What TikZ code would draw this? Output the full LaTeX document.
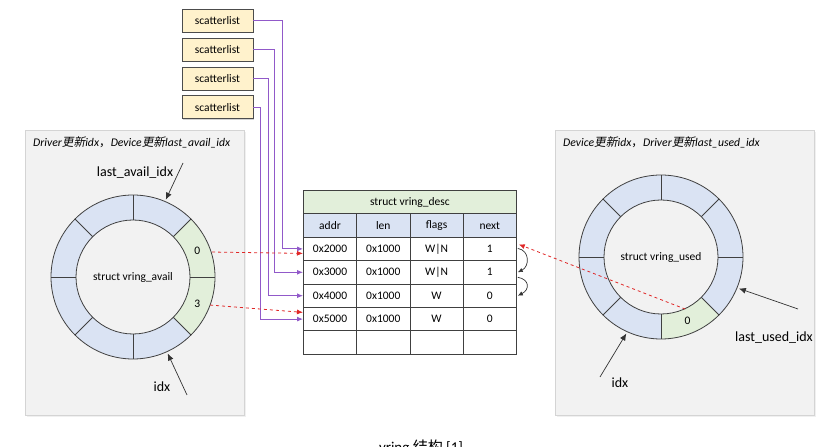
\documentclass[tikz,border=0pt]{standalone}
\usepackage{fontspec}
\setmainfont{Carlito}
\newfontfamily\cjk{Noto Sans CJK SC}
\newfontfamily\cjkit{Noto Sans CJK SC}[FakeSlant=0.2]
\usetikzlibrary{arrows.meta,positioning,calc,shadows}

\definecolor{segblue}{HTML}{DAE3F3}
\definecolor{seggreen}{HTML}{E2EFDA}
\definecolor{slyellow}{HTML}{FFF2CC}
\definecolor{panelgray}{HTML}{F2F2F2}
\definecolor{panelline}{HTML}{D4D4D4}
\definecolor{sgpurple}{HTML}{9159C9}
\definecolor{ptrred}{HTML}{E02828}

\begin{document}
\begin{tikzpicture}[
  x=1pt, y=1pt, >=Latex, font=\fontsize{11.5}{13}\selectfont,
  slbox/.style={draw=black!70, fill=slyellow, minimum width=71pt, minimum height=23pt, inner sep=0pt,
    drop shadow={shadow xshift=1.2pt, shadow yshift=-1.2pt, opacity=0.35}},
  panel/.style={draw=panelline, fill=panelgray, inner sep=0pt, anchor=north west,
    drop shadow={shadow xshift=1.5pt, shadow yshift=-1.5pt, opacity=0.12}},
  title/.style={font=\fontsize{11.7}{13}\selectfont\itshape, anchor=west, inner sep=0pt},
  cell/.style={draw=black!75, line width=0.8pt, minimum width=53.25pt, minimum height=23.4pt, inner sep=0pt, anchor=north west},
  ringline/.style={draw=black!75, line width=0.8pt},
  sglink/.style={draw=sgpurple, line width=0.9pt, -{Latex[length=6pt,width=5pt]}},
  ptr/.style={draw=ptrred, dashed, line width=0.8pt, -{Latex[length=6pt,width=5pt]}},
  idxarrow/.style={draw=black!80, line width=0.7pt, -{Latex[length=7pt,width=6pt]}},
  nextarrow/.style={draw=black!80, line width=0.7pt, -{Latex[length=5pt,width=4.5pt]}},
  idxlabel/.style={font=\fontsize{14}{16}\selectfont}
]
\useasboundingbox (0,0) rectangle (822,447);

% ---------- PANELS ----------
\node[panel, minimum width=219pt, minimum height=285pt] (availpanel) at (25,317) {};
\node[panel, minimum width=259pt, minimum height=285pt] (usedpanel) at (555,317) {};
\node[title] (availtitle) at (33,305) {Driver{\cjkit 更新}idx{\cjk ，}Device{\cjkit 更新}last\_avail\_idx};
\node[title] (usedtitle) at (563,305) {Device{\cjkit 更新}idx{\cjk ，}Driver{\cjkit 更新}last\_used\_idx};

% ---------- AVAIL RING ----------
\coordinate (availc) at (133,170);
\foreach \a in {0,45,...,315}
  \fill[segblue] ($(availc)+(\a:82)$) arc[start angle=\a, end angle=\a+45, radius=82]
    -- ($(availc)+(\a+45:57)$) arc[start angle=\a+45, end angle=\a, radius=57] -- cycle;
\foreach \a in {-45,0}
  \fill[seggreen] ($(availc)+(\a:82)$) arc[start angle=\a, end angle=\a+45, radius=82]
    -- ($(availc)+(\a+45:57)$) arc[start angle=\a+45, end angle=\a, radius=57] -- cycle;
\draw[ringline] (availc) circle[radius=82] (availc) circle[radius=57];
\foreach \a in {0,45,...,315}
  \draw[ringline] ($(availc)+(\a:57)$) -- ($(availc)+(\a:82)$);
\node (availname) at (availc) {struct vring\_avail};
\node (avail0) at ($(availc)+(22.5:69.5)$) {0};
\node (avail3) at ($(availc)+(-22.5:69.5)$) {3};

\node[idxlabel] (lastavail) at (135,274) {last\_avail\_idx};
\coordinate (lastavailtail) at (183,284);
\coordinate (lastavailtip) at ($(availc)+(67:84)$);
\draw[idxarrow] (lastavailtail) -- (lastavailtip);
\node[idxlabel] (availidx) at (162,60) {idx};
\coordinate (availidxtail) at (187,52);
\coordinate (availidxtip) at ($(availc)+(-65.6:84)$);
\draw[idxarrow] (availidxtail) -- (availidxtip);

% ---------- USED RING ----------
\coordinate (usedc) at (661,190);
\foreach \a in {0,45,...,315}
  \fill[segblue] ($(usedc)+(\a:82)$) arc[start angle=\a, end angle=\a+45, radius=82]
    -- ($(usedc)+(\a+45:57)$) arc[start angle=\a+45, end angle=\a, radius=57] -- cycle;
\fill[seggreen] ($(usedc)+(-90:82)$) arc[start angle=-90, end angle=-45, radius=82]
  -- ($(usedc)+(-45:57)$) arc[start angle=-45, end angle=-90, radius=57] -- cycle;
\draw[ringline] (usedc) circle[radius=82] (usedc) circle[radius=57];
\foreach \a in {0,45,...,315}
  \draw[ringline] ($(usedc)+(\a:57)$) -- ($(usedc)+(\a:82)$);
\node (usedname) at (usedc) {struct vring\_used};
\node (used0) at ($(usedc)+(-67.5:69.5)$) {0};

\node[idxlabel] (lastused) at (774,109) {last\_used\_idx};
\coordinate (lastusedtail) at (798,138);
\coordinate (lastusedtip) at ($(usedc)+(-22:84)$);
\draw[idxarrow] (lastusedtail) -- (lastusedtip);
\node[idxlabel] (usedidx) at (620,64) {idx};
\coordinate (usedidxtail) at (600,70);
\coordinate (usedidxtip) at ($(usedc)+(-114.4:84)$);
\draw[idxarrow] (usedidxtail) -- (usedidxtip);

% ---------- DESC TABLE ----------
\node[cell, fill=seggreen, minimum width=213pt] (desc) at (303,257) {struct vring\_desc};
\foreach \c [count=\i from 0] in {addr,len,flags,next}
  \node[cell, fill=segblue] (head-\i) at (303+\i*53.25,233.6) {\c};
\foreach \ad/\ln/\fl/\nx [count=\r] in {0x2000/0x1000/W|N/1, 0x3000/0x1000/W|N/1, 0x4000/0x1000/W/0, 0x5000/0x1000/W/0} {
  \node[cell, fill=white] (addr-\r) at (303,{257-23.4*(\r+1)}) {\ad};
  \node[cell, fill=white] (len-\r) at (356.25,{257-23.4*(\r+1)}) {\ln};
  \node[cell, fill=white] (flags-\r) at (409.5,{257-23.4*(\r+1)}) {\fl};
  \node[cell, fill=white] (next-\r) at (462.75,{257-23.4*(\r+1)}) {\nx};
}
\foreach \i in {0,1,2,3}
  \node[cell, fill=white] (empty-\i) at (303+\i*53.25,116.6) {};

% ---------- SCATTERLISTS ----------
\node[slbox] (sl1) at (217.5,426.5) {scatterlist};
\node[slbox, below=5.5pt of sl1] (sl2) {scatterlist};
\node[slbox, below=5.5pt of sl2] (sl3) {scatterlist};
\node[slbox, below=5.5pt of sl3] (sl4) {scatterlist};

\foreach \s/\off in {1/21,2/29,3/35,4/43}
  \draw[sglink] (sl\s.east) -| ($(addr-\s.west)-(\off,0)$) -- (addr-\s.west);

% ---------- POINTERS ----------
\coordinate (avail0out) at ($(availc)+(17.5:83)$);
\coordinate (avail3out) at ($(availc)+(-20:82)$);
\coordinate (used0out) at ($(usedc)+(-65:57.5)$);
\draw[ptr] (avail0out) -- ($(addr-1.west)+(0,-4.5)$);
\draw[ptr] (avail3out) -- ($(addr-4.west)+(0,6.7)$);
\draw[ptr] (used0out) -- ($(next-1.east)+(2,4.5)$);

\draw[nextarrow] ($(next-1.east)+(1,0.5)$) .. controls +(12,-2) and +(12,6) .. ($(next-2.east)+(1,0)$);
\draw[nextarrow] ($(next-2.east)+(1,-5)$) .. controls +(12,-2) and +(12,6) .. ($(next-3.east)+(1,0)$);

% ---------- CAPTION ----------
\node[font=\fontsize{15}{17}\selectfont, anchor=base] (caption) at (421,-5.5) {vring {\cjk 结构} [1]};

\end{tikzpicture}
\end{document}
